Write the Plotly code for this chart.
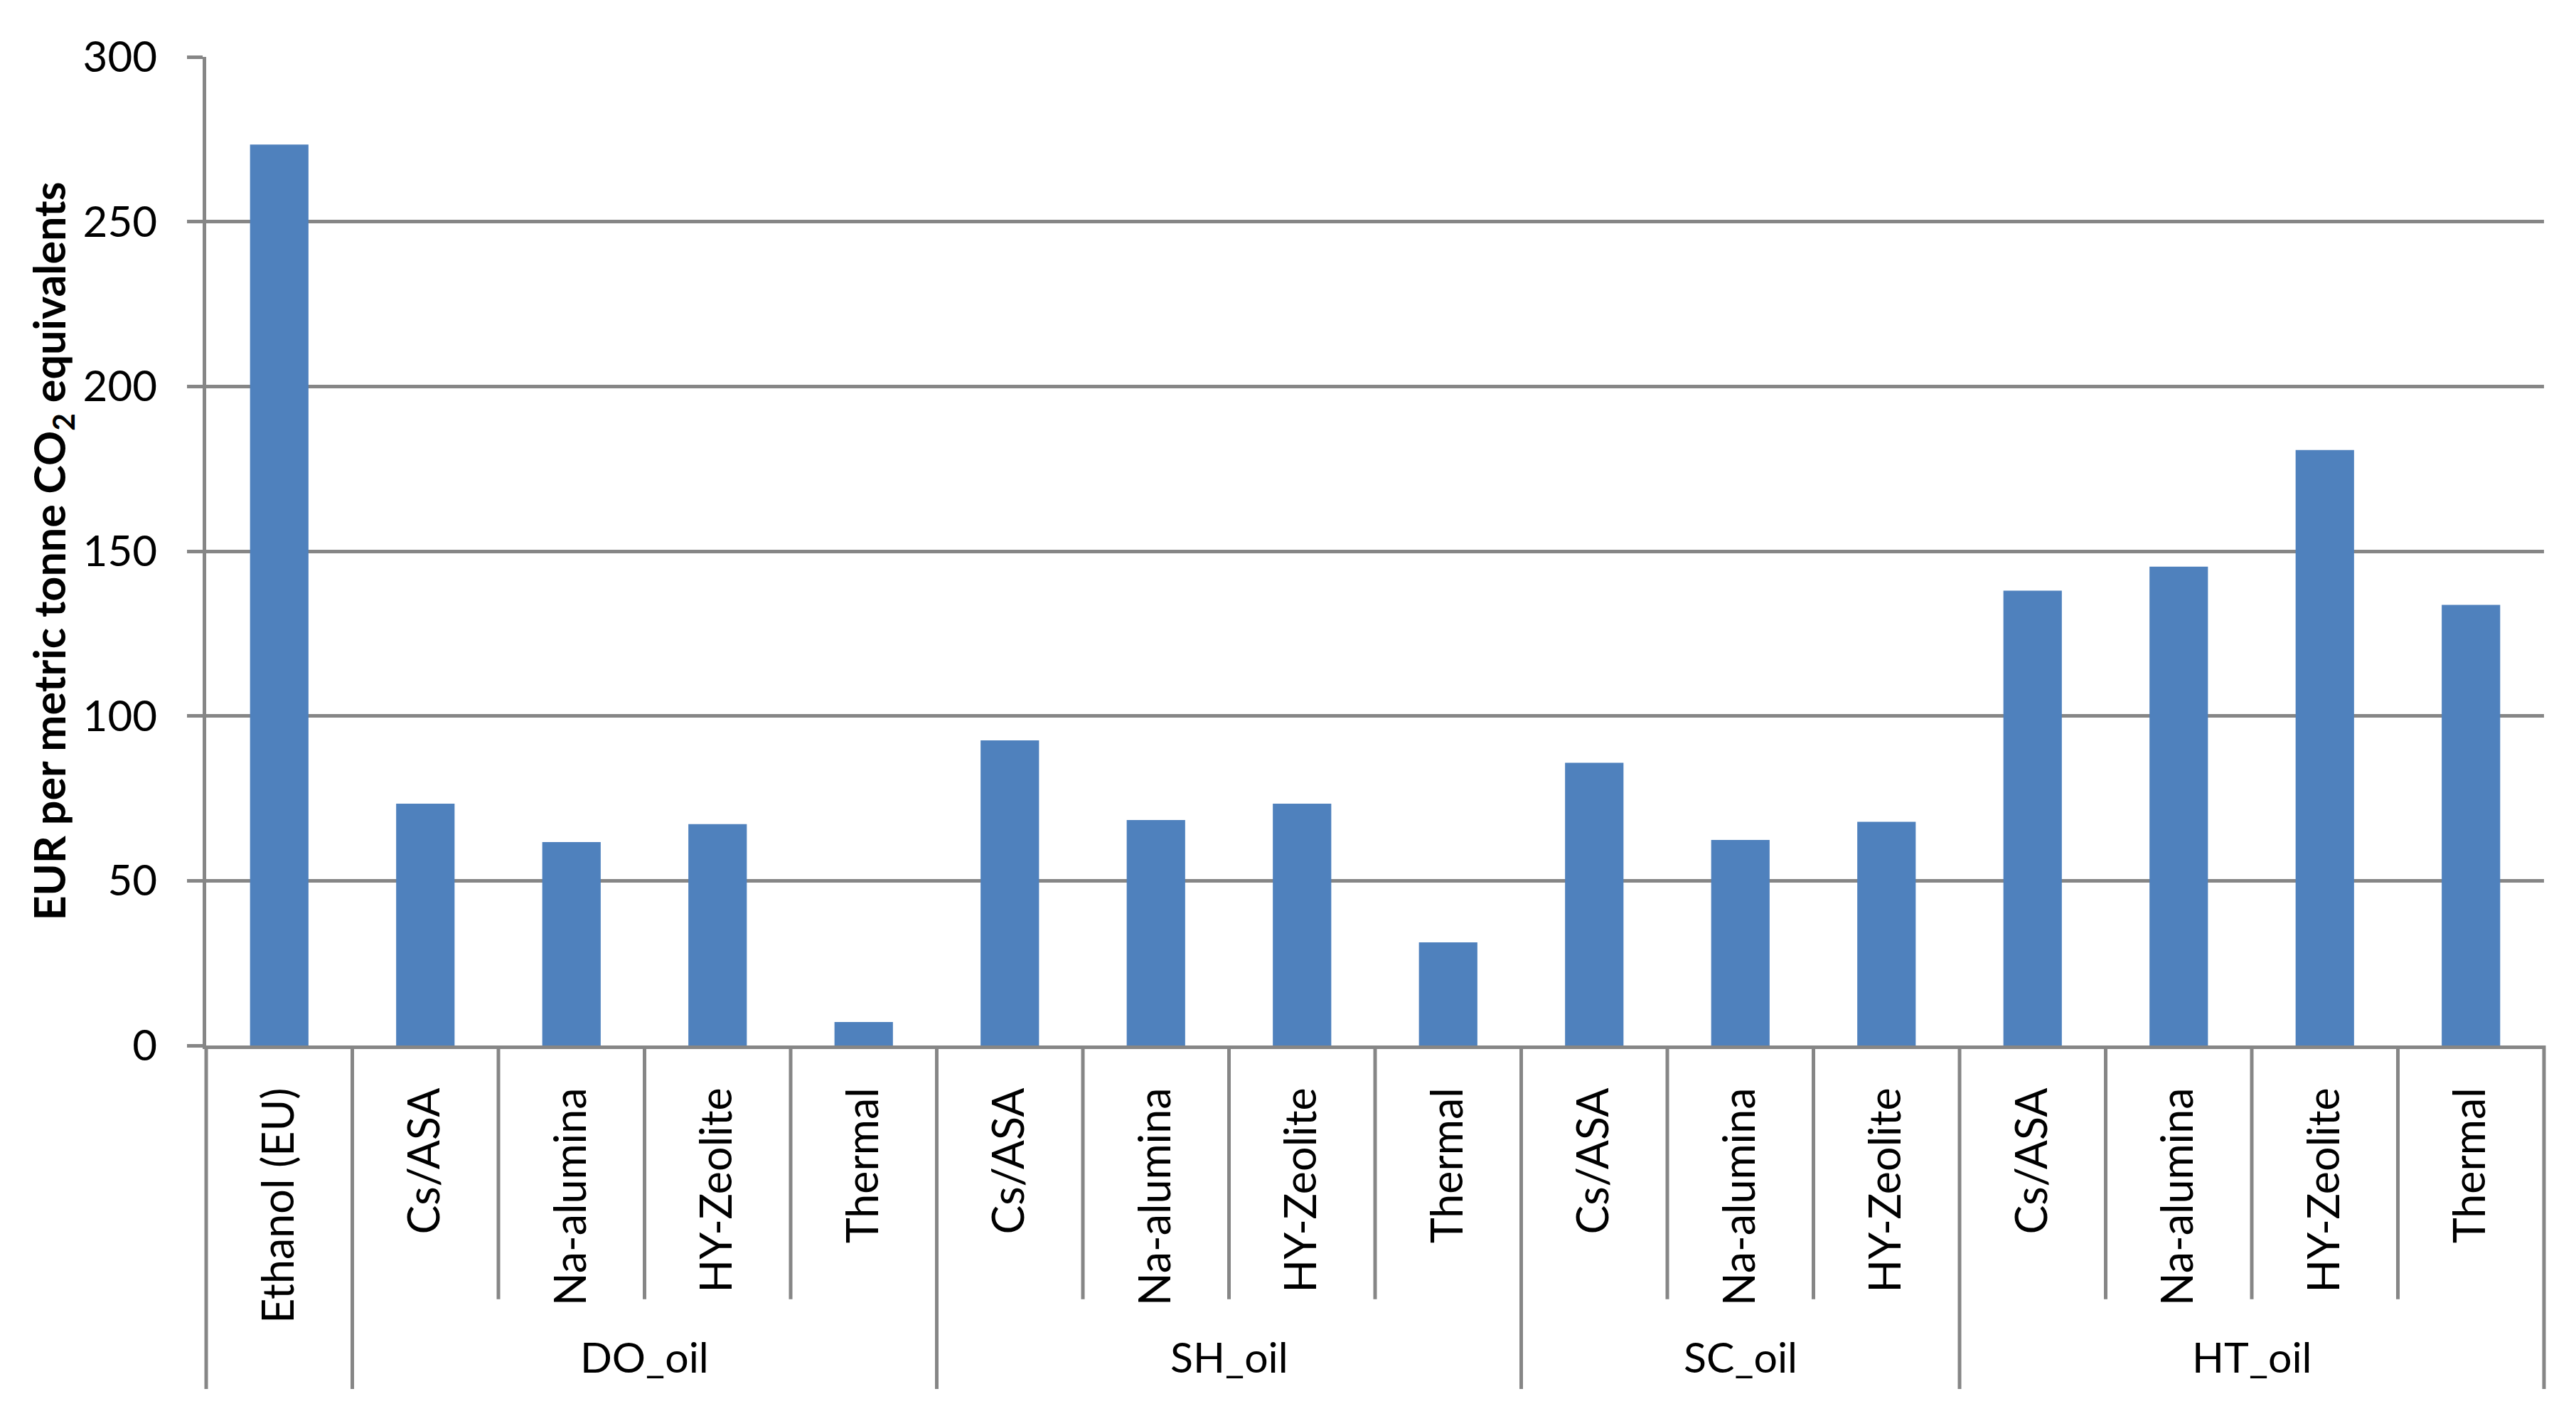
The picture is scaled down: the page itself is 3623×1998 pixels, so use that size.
import plotly.graph_objects as go

# ---- data ----
categories = ["Ethanol (EU)",
              "Cs/ASA", "Na-alumina", "HY-Zeolite", "Thermal",
              "Cs/ASA", "Na-alumina", "HY-Zeolite", "Thermal",
              "Cs/ASA", "Na-alumina", "HY-Zeolite",
              "Cs/ASA", "Na-alumina", "HY-Zeolite", "Thermal"]
groups = ["",
          "DO_oil", "DO_oil", "DO_oil", "DO_oil",
          "SH_oil", "SH_oil", "SH_oil", "SH_oil",
          "SC_oil", "SC_oil", "SC_oil",
          "HT_oil", "HT_oil", "HT_oil", "HT_oil"]
values = [273.4,
          73.4, 61.7, 67.2, 7.1,
          92.6, 68.4, 73.4, 31.3,
          85.8, 62.4, 67.9,
          138.0, 145.3, 180.7, 133.7]
y_ticks = [0, 50, 100, 150, 200, 250, 300]
y_title = "EUR per metric tonne CO<sub>2</sub> equivalents"

# ---- style ----
BAR = "#4F81BD"
GRID = "#868686"
FONT = "Lato"
W, H = 3623, 1998
LINE_W = 5
SHORT_Y = -0.2567  # bottom of separators inside a group (paper)
LONG_Y = -0.3475   # bottom of separators between groups (paper)
GROUP_Y = -0.315   # group label centre (paper)

idx = list(range(len(categories)))
hover = [f"{g + ' / ' if g else ''}{c}" for g, c in zip(groups, categories)]

fig = go.Figure(go.Bar(
    x=idx, y=values,
    marker=dict(color=BAR, line=dict(width=0)),
    hovertext=hover, hovertemplate="%{hovertext}: %{y}<extra></extra>",
))

# group spans
spans = []
start = 0
for i in range(1, len(groups) + 1):
    if i == len(groups) or groups[i] != groups[start]:
        spans.append((groups[start], start, i - 1))
        start = i

shapes = []
line = dict(color=GRID, width=LINE_W)
# outer edges of the category area
for px in (0, 1):
    shapes.append(dict(type="line", xref="paper", yref="paper",
                       x0=px, x1=px, y0=0, y1=LONG_Y, line=line))
# separators between categories
for i in range(1, len(categories)):
    bottom = LONG_Y if groups[i] != groups[i - 1] else SHORT_Y
    shapes.append(dict(type="line", xref="x", yref="paper",
                       x0=i - 0.5, x1=i - 0.5, y0=0, y1=bottom, line=line))

annotations = []
for name, s, e in spans:
    if name:
        annotations.append(dict(text=name, x=(s + e) / 2, xref="x",
                                y=GROUP_Y, yref="paper", showarrow=False,
                                xanchor="center", yanchor="middle",
                                font=dict(family=FONT, size=59, color="black")))

fig.update_layout(
    width=W, height=H,
    margin=dict(l=290, r=45, t=80, b=528),
    paper_bgcolor="white", plot_bgcolor="white",
    bargap=0.60,
    showlegend=False,
    shapes=shapes, annotations=annotations,
    font=dict(family=FONT, color="black"),
)
fig.update_xaxes(
    range=[-0.5, len(categories) - 0.5],
    tickmode="array", tickvals=idx, ticktext=categories,
    tickangle=-90, ticks="", ticklabelstandoff=30,
    tickfont=dict(family=FONT, size=61, color="black"),
    showline=True, linecolor=GRID, linewidth=LINE_W,
    showgrid=False, zeroline=False,
)
fig.update_yaxes(
    range=[0, 300], tickmode="array", tickvals=y_ticks,
    ticks="outside", ticklen=22, tickwidth=LINE_W, tickcolor=GRID,
    ticklabelstandoff=30,
    tickfont=dict(family=FONT, size=60, color="black"),
    showgrid=True, gridcolor=GRID, gridwidth=LINE_W,
    showline=True, linecolor=GRID, linewidth=LINE_W, zeroline=False,
    title=dict(text=y_title, standoff=6,
               font=dict(family=FONT, size=61, color="black", weight="bold")),
)

fig.write_html("out.html",
               config={"displayModeBar": False},
               post_script="document.body.style.margin='0';"
                           "document.body.style.overflow='hidden';")
